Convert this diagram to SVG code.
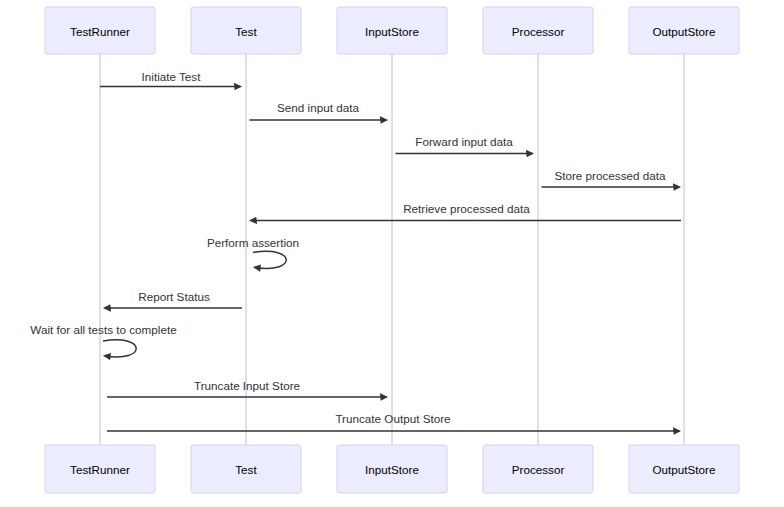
<svg xmlns="http://www.w3.org/2000/svg" width="784" height="507" viewBox="0 0 784 507">
<style>
.actor{fill:#ECECFF;stroke:#DACEF3;stroke-width:1}
.atext{font-family:"Liberation Sans",Arial,sans-serif;font-size:11.7px;fill:#000;text-anchor:middle;dominant-baseline:central}
.life{stroke:#DACEF3;stroke-width:1.5;fill:none}
.msg{stroke:#333;stroke-width:1.47;fill:none}
.mtext{font-family:"Liberation Sans",Arial,sans-serif;font-size:11.7px;fill:#333;text-anchor:middle}
</style>
<defs>
<marker id="ah" markerUnits="userSpaceOnUse" viewBox="-1 0 11 10" refX="7.9" refY="5" markerWidth="8.1" markerHeight="7.4" orient="auto">
<path d="M -1 0 L 10 5 L 0 10 z" fill="#333" stroke="none"/>
</marker>
</defs>
<rect width="784" height="507" fill="#fff"/>
<g id="lifelines">
<line class="life" x1="100" y1="54" x2="100" y2="445"/>
<line class="life" x1="246" y1="54" x2="246" y2="445"/>
<line class="life" x1="392" y1="54" x2="392" y2="445"/>
<line class="life" x1="538" y1="54" x2="538" y2="445"/>
<line class="life" x1="684" y1="54" x2="684" y2="445"/>
</g>
<g id="TestRunner">
<rect class="actor" x="45" y="7" width="110" height="47" rx="2.2"/>
<text class="atext" x="100" y="31">TestRunner</text>
<rect class="actor" x="45" y="445" width="110" height="48" rx="2.2"/>
<text class="atext" x="100" y="469.5">TestRunner</text>
</g>
<g id="Test">
<rect class="actor" x="191" y="7" width="110" height="47" rx="2.2"/>
<text class="atext" x="246" y="31">Test</text>
<rect class="actor" x="191" y="445" width="110" height="48" rx="2.2"/>
<text class="atext" x="246" y="469.5">Test</text>
</g>
<g id="InputStore">
<rect class="actor" x="337" y="7" width="110" height="47" rx="2.2"/>
<text class="atext" x="392" y="31">InputStore</text>
<rect class="actor" x="337" y="445" width="110" height="48" rx="2.2"/>
<text class="atext" x="392" y="469.5">InputStore</text>
</g>
<g id="Processor">
<rect class="actor" x="483" y="7" width="110" height="47" rx="2.2"/>
<text class="atext" x="538" y="31">Processor</text>
<rect class="actor" x="483" y="445" width="110" height="48" rx="2.2"/>
<text class="atext" x="538" y="469.5">Processor</text>
</g>
<g id="OutputStore">
<rect class="actor" x="629" y="7" width="110" height="47" rx="2.2"/>
<text class="atext" x="684" y="31">OutputStore</text>
<rect class="actor" x="629" y="445" width="110" height="48" rx="2.2"/>
<text class="atext" x="684" y="469.5">OutputStore</text>
</g>
<g id="connectors">
<text class="mtext" x="171" y="80.5">Initiate Test</text>
<line class="msg" x1="100" y1="86.5" x2="240.5" y2="86.5" marker-end="url(#ah)"/>
<text class="mtext" x="318" y="112">Send input data</text>
<line class="msg" x1="249.5" y1="120" x2="386.5" y2="120" marker-end="url(#ah)"/>
<text class="mtext" x="464" y="146">Forward input data</text>
<line class="msg" x1="395.5" y1="153.5" x2="532.5" y2="153.5" marker-end="url(#ah)"/>
<text class="mtext" x="610" y="180">Store processed data</text>
<line class="msg" x1="541.5" y1="187" x2="679.5" y2="187" marker-end="url(#ah)"/>
<text class="mtext" x="466.5" y="213">Retrieve processed data</text>
<line class="msg" x1="681" y1="220.5" x2="250.5" y2="220.5" marker-end="url(#ah)"/>
<text class="mtext" x="253" y="247">Perform assertion</text>
<path class="msg" d="M 253 252.5 C 297 245.2 297 274.5 254.5 267.2" marker-end="url(#ah)"/>
<text class="mtext" x="174" y="301">Report Status</text>
<line class="msg" x1="242" y1="308" x2="104.5" y2="308" marker-end="url(#ah)"/>
<text class="mtext" x="103.5" y="333.5">Wait for all tests to complete</text>
<path class="msg" d="M 103 341 C 147 333.7 147 363 104.5 355.7" marker-end="url(#ah)"/>
<text class="mtext" x="247" y="390">Truncate Input Store</text>
<line class="msg" x1="107" y1="397" x2="386.5" y2="397" marker-end="url(#ah)"/>
<text class="mtext" x="393" y="423">Truncate Output Store</text>
<line class="msg" x1="107" y1="431" x2="679.5" y2="431" marker-end="url(#ah)"/>
</g>
</svg>
